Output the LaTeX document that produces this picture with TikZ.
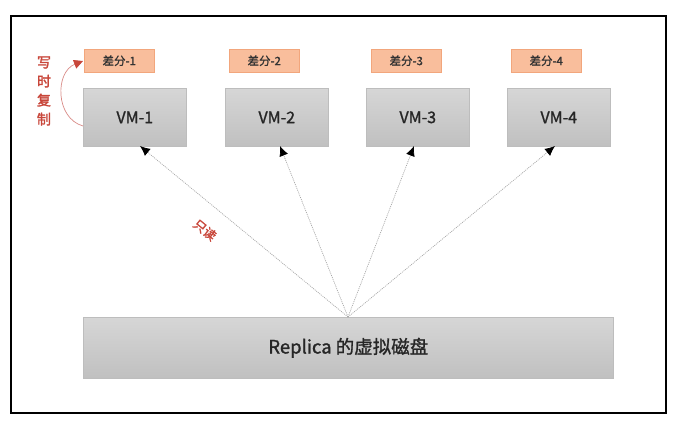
\documentclass[tikz,border=0pt]{standalone}
\usepackage{fontspec}
\setmainfont{Noto Sans CJK SC}
\newfontfamily\semib[FakeBold=1.2]{Noto Sans CJK SC}
\newfontfamily\redb[FakeBold=2]{Noto Sans CJK SC}
\usetikzlibrary{arrows.meta}
\definecolor{boxtop}{HTML}{D6D6D6}
\definecolor{boxbot}{HTML}{C0C0C0}
\definecolor{boxline}{HTML}{BDBDBD}
\definecolor{orfill}{HTML}{F9BE9C}
\definecolor{orline}{HTML}{F2A67C}
\definecolor{redtxt}{HTML}{C8463A}
\definecolor{redarc}{HTML}{D88A86}
\tikzset{
  vmbox/.style={draw=boxline, line width=0.6pt, top color=boxtop, bottom color=boxbot,
    minimum width=103pt, minimum height=58pt, inner sep=0pt, font=\semib\fontsize{16}{16}\selectfont, text=black!85},
  diffbox/.style={draw=orline, line width=0.5pt, fill=orfill, minimum width=70pt, minimum height=23pt,
    inner sep=0pt, font=\semib\fontsize{11.5}{12}\selectfont, text=black!80},
  readline/.style={draw=gray!70, line width=0.7pt, dash pattern=on 1pt off 1pt, -{Latex[length=10pt,width=9pt,color=black]}},
}
\begin{document}
\begin{tikzpicture}[x=1pt,y=-1pt]
\useasboundingbox (0,0) rectangle (674,423);
\draw[line width=2.6pt] (11,16) rectangle (666,413);
% diff boxes
\node[diffbox, anchor=north west] (d1) at (84,49) {差分-1};
\node[diffbox, anchor=north west] (d2) at (229,49) {差分-2};
\node[diffbox, anchor=north west] (d3) at (371,49) {差分-3};
\node[diffbox, anchor=north west] (d4) at (511,49) {差分-4};
% VM boxes
\node[vmbox, anchor=north west] (v1) at (83,88) {VM-1};
\node[vmbox, anchor=north west] (v2) at (225,88) {VM-2};
\node[vmbox, anchor=north west] (v3) at (366,88) {VM-3};
\node[vmbox, anchor=north west] (v4) at (507,88) {VM-4};
% replica
\node[vmbox, anchor=north west, minimum width=530pt, minimum height=61pt,
      font=\semib\fontsize{18.5}{18.5}\selectfont] (rep) at (83,317) {Replica 的虚拟磁盘};
\coordinate (src) at (348,317);
\coordinate (t1) at (140,146);
\coordinate (t2) at (280,146);
\coordinate (t3) at (414,146);
\coordinate (t4) at (555,146);
\draw[readline] (src) -- (t1);
\draw[readline] (src) -- (t2);
\draw[readline] (src) -- (t3);
\draw[readline] (src) -- (t4);
\node[text=redtxt, font=\redb\fontsize{12.5}{12.5}\selectfont, rotate=-39, inner sep=0pt] (ro) at (205,230) {只读};
% copy on write
\node[text=redtxt, font=\redb\fontsize{14}{19}\selectfont, align=center, inner sep=0pt] (cow) at (44,91) {写\\时\\复\\制};
\coordinate (a0) at (83,126);
\coordinate (a1) at (83,61);
\draw[draw=redarc, line width=0.7pt, -{Triangle[length=9pt,width=9pt,color=redtxt]}]
  (a0) .. controls (55,118) and (55,72) .. (a1);
\end{tikzpicture}
\end{document}
